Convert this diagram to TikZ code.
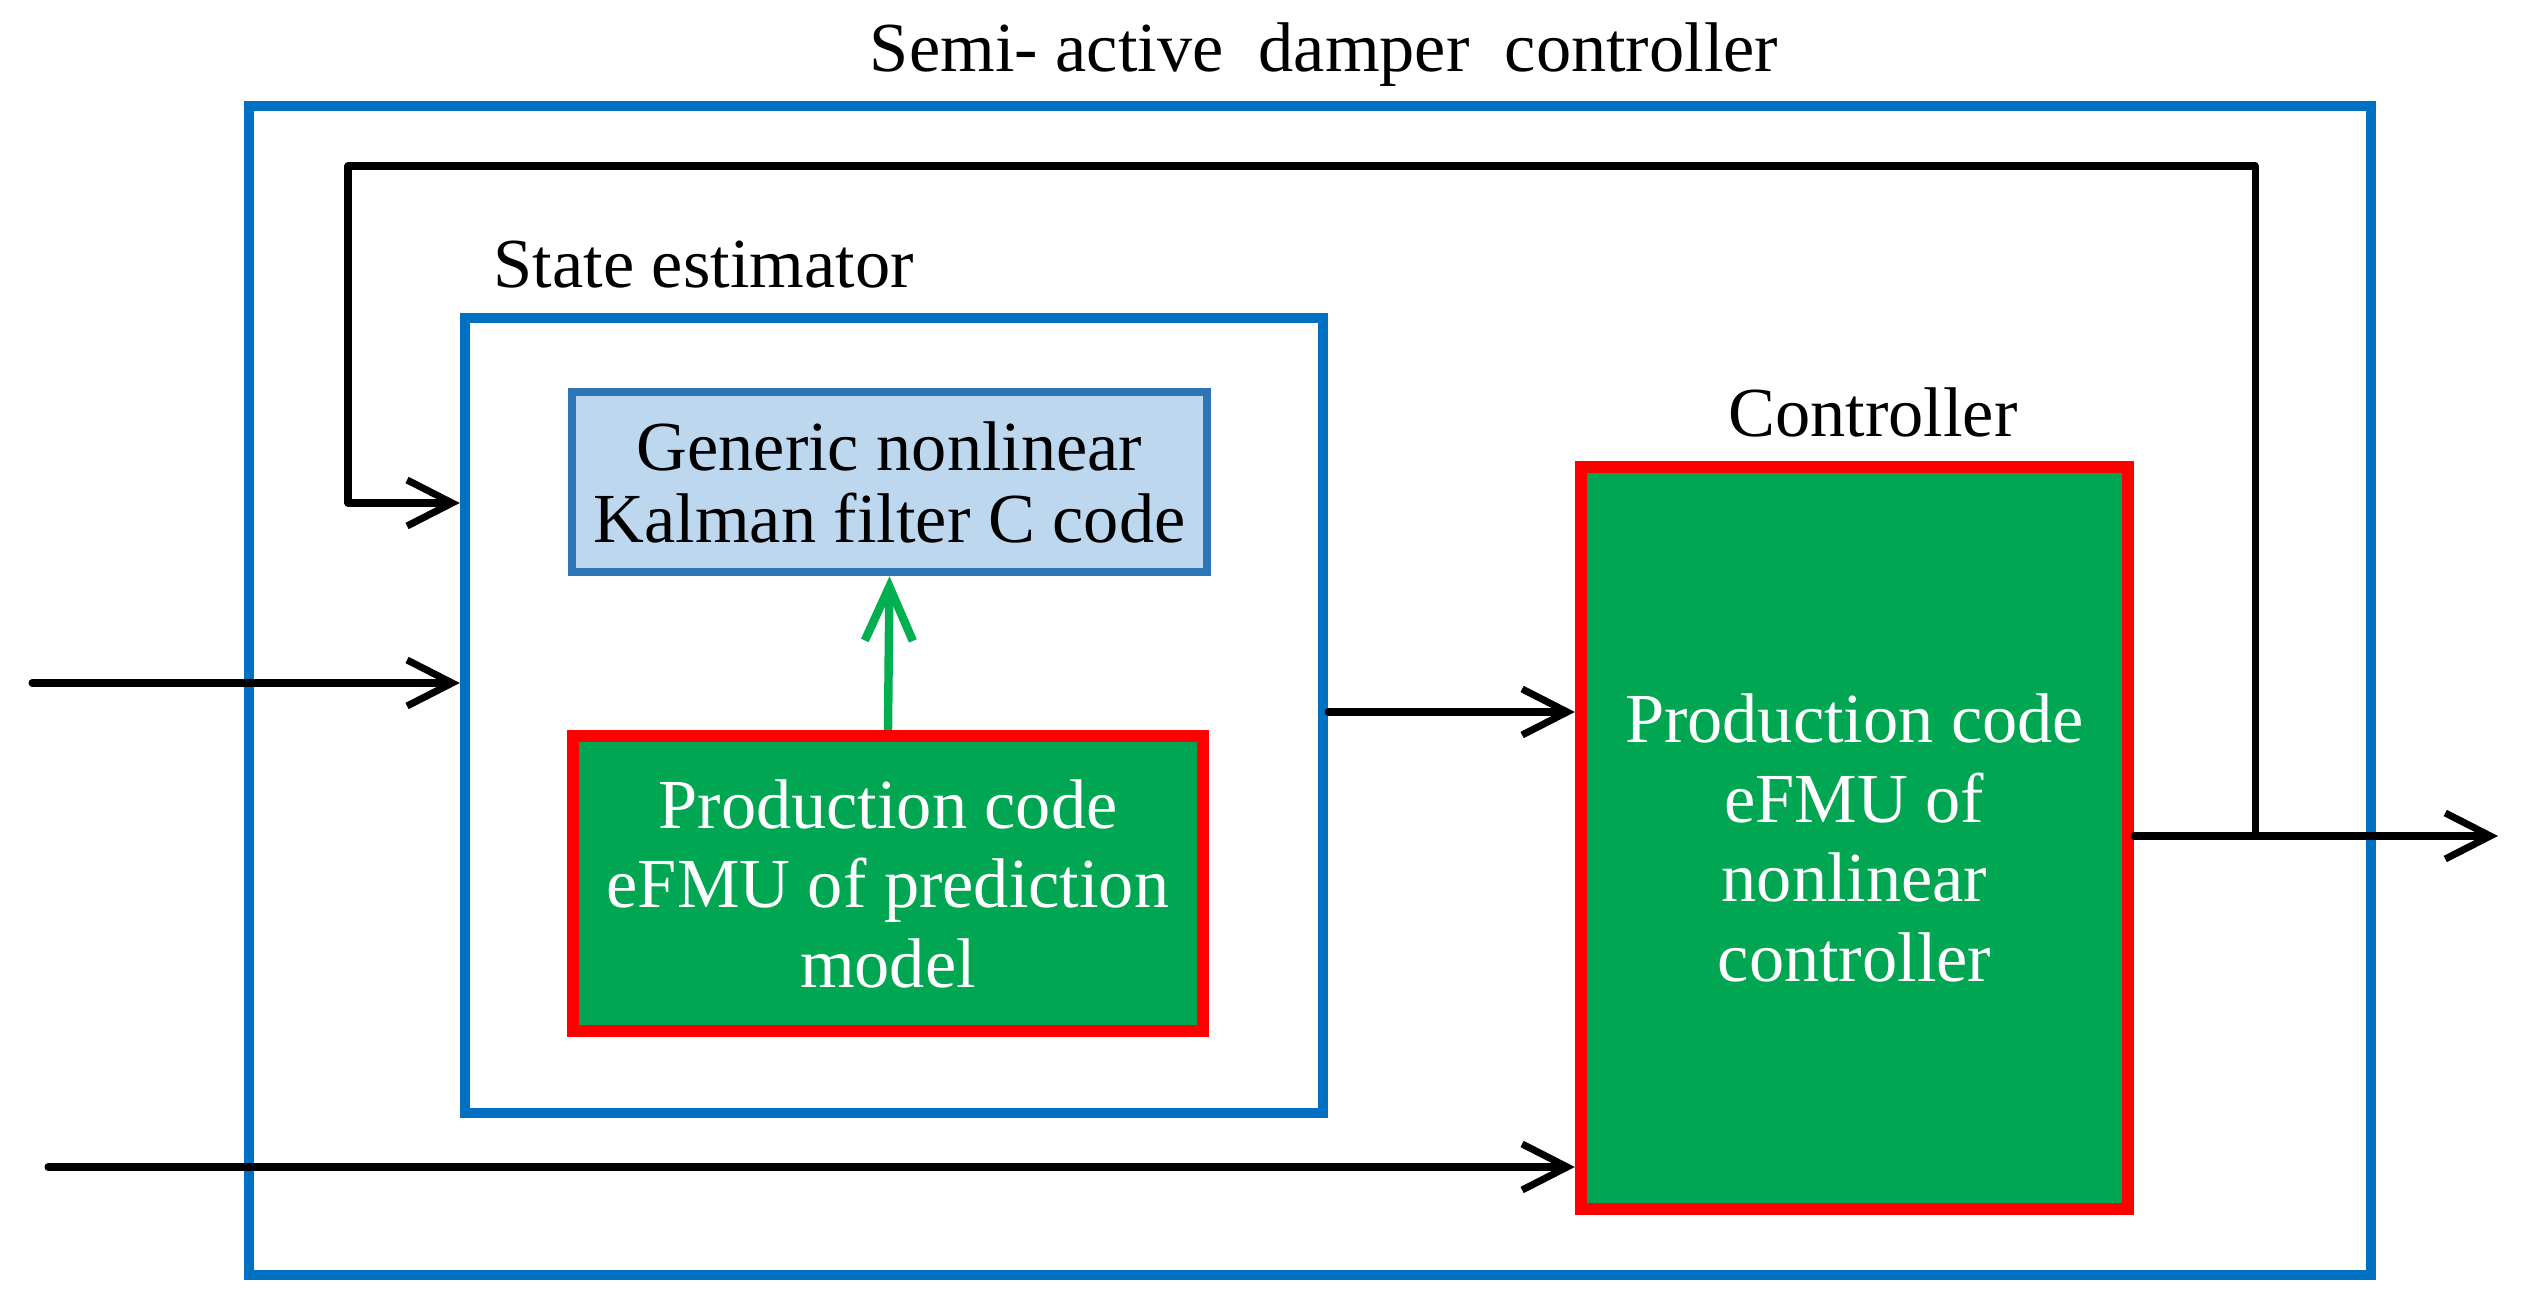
\documentclass[tikz,border=0pt]{standalone}
\usepackage{fontspec}
\setmainfont{Liberation Serif}
\usetikzlibrary{arrows.meta}
\definecolor{outerblue}{HTML}{0070C0}
\definecolor{kalborder}{HTML}{2E75B6}
\definecolor{kalfill}{HTML}{BDD7EE}
\definecolor{prodgreen}{HTML}{00A651}
\definecolor{arrowgreen}{HTML}{00B050}
\definecolor{prodred}{HTML}{FF0000}
\tikzset{
  bluebox/.style={draw=outerblue, line width=2.8pt, inner sep=0pt, fill=none},
  kalbox/.style={draw=kalborder, fill=kalfill, line width=2.4pt, inner sep=0pt, align=center,
    font=\fontsize{20}{20.5}\selectfont},
  prodbox/.style={draw=prodred, fill=prodgreen, line width=3.4pt, inner sep=0pt, align=center,
    text=white, font=\fontsize{20}{22.6}\selectfont},
  lbl/.style={inner sep=0pt, anchor=base, font=\fontsize{20}{24}\selectfont},
  conn/.style={draw=black, line width=2pt, line cap=round, line join=round},
  arr/.style={conn, -{Straight Barb[length=4.5mm, width=4.6mm, line width=2pt]}},
  garr/.style={draw=arrowgreen, line width=2.4pt, -{Straight Barb[length=5.4mm, width=4.8mm, line width=2.4pt]}}
}
\begin{document}
\begin{tikzpicture}[x=0.01cm, y=-0.01cm]
\useasboundingbox (0,0) rectangle (2523,1304);
% boxes
\node[bluebox, minimum width=21.2cm, minimum height=11.69cm] (outer) at (1310,690.5) {};
\node[bluebox, minimum width=8.58cm, minimum height=7.95cm] (se) at (894,715.5) {};
\node[kalbox, minimum width=6.35cm, minimum height=1.8cm] (kal) at (889.5,482)
  {Generic nonlinear\\Kalman filter C code};
\node[prodbox, minimum width=6.3cm, minimum height=2.95cm] (pred) at (888,883.5)
  {Production code\\eFMU of prediction\\model};
\node[prodbox, minimum width=5.47cm, minimum height=7.42cm] (ctrl) at (1854.5,838)
  {Production code\\eFMU of\\nonlinear\\controller};
% labels
\node[lbl] (title) at (1324,72) {Semi- active\ \ damper\ \ controller};
\node[lbl, anchor=base west] (selbl) at (493,288) {State estimator};
\node[lbl] (ctrllbl) at (1873,437) {Controller};
% coordinates
\coordinate (in1) at (32,683);
\coordinate (in2) at (48,1167);
\coordinate (mid) at (0,712);
\coordinate (out) at (2498,836);
\coordinate (junc) at (2255,836);
\coordinate (fbtr) at (2255,166);
\coordinate (fbtl) at (348,166);
\coordinate (fbbl) at (348,503);
% connectors
\draw[arr] (in1) -- (in1 -| se.west);
\draw[arr] (in2) -- (in2 -| ctrl.west);
\draw[arr] (se.east |- mid) -- (ctrl.west |- mid);
\draw[arr] (ctrl.east |- out) -- (out);
\draw[arr] (junc) -- (fbtr) -- (fbtl) -- (fbbl) -- (fbbl -| se.west);
\draw[garr] (pred.north) -- (kal.south);
\end{tikzpicture}
\end{document}
